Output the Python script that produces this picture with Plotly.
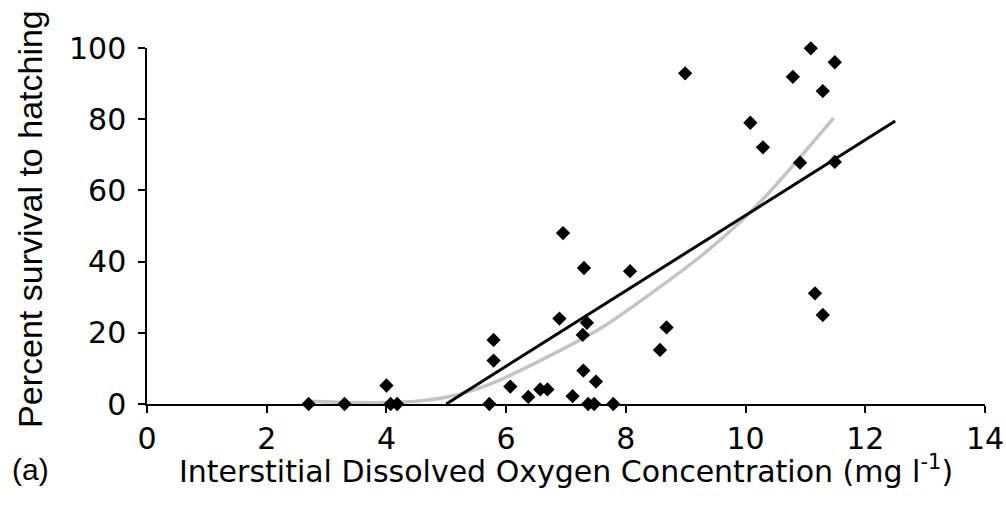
import plotly.graph_objects as go

# Observed data points (interstitial DO, percent survival)
obs_x = [2.7, 3.3, 4.0, 4.07, 4.18, 5.72, 5.79, 5.79, 6.07, 6.37, 6.57, 6.69,
         6.89, 6.95, 7.11, 7.28, 7.29, 7.3, 7.35, 7.37, 7.47, 7.5, 7.79,
         8.07, 8.57, 8.68, 8.99, 10.08, 10.29, 10.79, 10.91, 11.09, 11.16,
         11.29, 11.29, 11.49, 11.49]
obs_y = [0, 0, 5.2, 0, 0, 0, 18, 12.2, 4.9, 2, 4.1, 4.1,
         24, 48, 2.2, 19.4, 9.4, 38.2, 22.8, 0, 0, 6.3, 0,
         37.3, 15.2, 21.5, 92.9, 79, 72.1, 91.9, 67.8, 99.9, 31.1,
         87.9, 25, 96, 68]

# Linear fit line (endpoints)
lin_x = [5.0, 12.5]
lin_y = [0.0, 79.5]

# Curvilinear fit
cur_x = [2.7, 3.5, 4.0, 4.5, 5.0, 5.45, 5.9, 6.7, 7.6, 8.4, 9.25, 9.9, 10.25, 10.7, 11.47]
cur_y = [0.8, 0.4, 0.4, 0.8, 1.9, 3.9, 6.8, 13.3, 21.5, 30.8, 41.5, 51.0, 56.8, 65.2, 80.3]

x_ticks = [0, 2, 4, 6, 8, 10, 12, 14]
y_ticks = [0, 20, 40, 60, 80, 100]

HFONT = "DejaVu Sans"
HFS = 30
VFONT = "Liberation Sans"
VFS = 34

W, H = 1006, 511
fig = go.Figure()
fig.add_trace(go.Scatter(x=cur_x, y=cur_y, mode="lines",
                         line=dict(color="#c4c4c4", width=3.5, shape="spline", smoothing=0.8),
                         showlegend=False, hoverinfo="skip"))
fig.add_trace(go.Scatter(x=lin_x, y=lin_y, mode="lines", line=dict(color="black", width=3),
                         showlegend=False, hoverinfo="skip"))
fig.add_trace(go.Scatter(x=obs_x, y=obs_y, mode="markers",
                         marker=dict(symbol="diamond", size=11, color="black"),
                         showlegend=False, cliponaxis=False))

fig.update_layout(
    width=W, height=H, autosize=False,
    margin=dict(l=147, r=21, t=48, b=107),
    paper_bgcolor="white", plot_bgcolor="white",
    font=dict(family=HFONT, size=HFS, color="black"),
    xaxis=dict(range=[0, 14], tickvals=x_ticks, ticktext=[str(v) for v in x_ticks],
               automargin=False,
               showgrid=False, zeroline=False, showline=True, linecolor="black", linewidth=1.5,
               ticks="outside", ticklen=7, tickwidth=1.5, tickcolor="black",
               ticklabeloverflow="allow",
               tickfont=dict(family=HFONT, size=HFS)),
    yaxis=dict(range=[0, 100], tickvals=y_ticks, ticktext=[str(v) for v in y_ticks],
               automargin=False,
               showgrid=False, zeroline=False, showline=True, linecolor="black", linewidth=1.5,
               ticks="outside", ticklen=7, tickwidth=1.5, tickcolor="black",
               ticklabelstandoff=6,
               tickfont=dict(family=HFONT, size=HFS)),
    annotations=[
        dict(text="Interstitial Dissolved Oxygen Concentration (mg l<sup>-1</sup>)",
             xref="paper", yref="paper", x=0.5, y=-0.185, xanchor="center", yanchor="middle",
             showarrow=False, font=dict(family=HFONT, size=HFS)),
        dict(text="Percent survival to hatching", textangle=-90,
             xref="paper", yref="paper", x=-0.1396, y=0.52, xanchor="center", yanchor="middle",
             showarrow=False, font=dict(family=VFONT, size=VFS)),
        dict(text="(a)", xref="paper", yref="paper", x=-0.1635, y=-0.185,
             xanchor="left", yanchor="middle", showarrow=False, font=dict(family=VFONT, size=30)),
    ],
)

# remove the default 8px page margin so the 1006x511 figure fills the window exactly
fig.write_html("out.html",
               config={"responsive": False, "displayModeBar": False},
               post_script="document.body.style.margin='0';")
